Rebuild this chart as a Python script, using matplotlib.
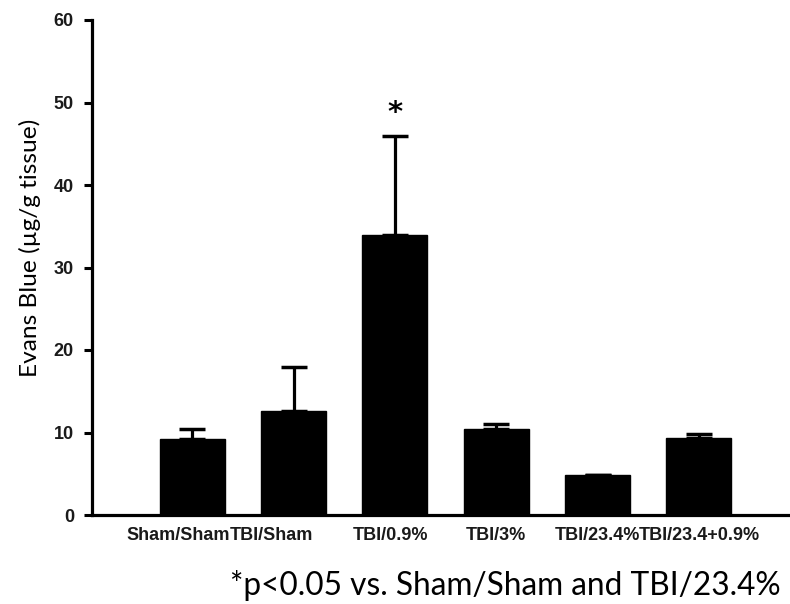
import numpy as np
import matplotlib
matplotlib.use('Agg')
import matplotlib.pyplot as plt

# groups and values
groups = ['Sham/Sham', 'TBI/Sham', 'TBI/0.9%', 'TBI/3%', 'TBI/23.4%', 'TBI/23.4+0.9%']
means = [9.2, 12.6, 33.9, 10.4, 4.85, 9.3]
sem = [1.2, 5.3, 12.1, 0.6, 0.0, 0.5]
sig = [False, False, True, False, False, False]

narrow = ['Liberation Sans Narrow', 'Liberation Sans', 'DejaVu Sans']

fig = plt.figure(figsize=(7.9, 6.04), dpi=100)
ax = fig.add_axes([92/790, 1-515/604, 698/790, 495/604])

x = np.arange(len(groups))
ax.bar(x, means, width=0.64, color='black', edgecolor='black')
ax.errorbar(x, means, yerr=[np.zeros(len(sem)), sem], fmt='none', ecolor='black',
            elinewidth=2.3, capsize=9.4, capthick=2.5)

for i in range(len(groups)):
    if sig[i]:
        ax.text(x[i], means[i] + sem[i] + 1.0, '*', ha='center', va='bottom',
                fontsize=21, fontweight='bold', family='DejaVu Sans')

ax.set_xlim(-0.99, 5.9)
ax.set_ylim(0, 60)
ax.set_yticks([0, 10, 20, 30, 40, 50, 60])
# labels of the first groups sit a little left of their bars in the original
# (x ticks have zero length, so only the labels move)
nudge = np.array([-0.14, -0.22, -0.04, 0, 0, 0])
ax.set_xticks(x + nudge)
ax.set_xticklabels(groups, family=narrow, fontweight='bold', fontsize=13, color='#1a1a1a')
for lab in ax.get_yticklabels():
    lab.set_family(narrow)
    lab.set_fontweight('bold')
    lab.set_fontsize(13)
    lab.set_color('#1a1a1a')

ax.spines['top'].set_visible(False)
ax.spines['right'].set_visible(False)
ax.spines['left'].set_linewidth(2.3)
ax.spines['bottom'].set_linewidth(2.3)
ax.tick_params(axis='y', direction='out', length=6, width=2.2, pad=7)
ax.tick_params(axis='x', length=0, pad=9)

ax.set_ylabel('Evans Blue (µg/g tissue)', family='Lato', fontsize=17.6)
ax.yaxis.set_label_coords(-0.073, 0.54)

fig.text(230/790, 1-595/604, '*p<0.05 vs. Sham/Sham and TBI/23.4%', family='Lato',
         fontsize=22.8, ha='left', va='baseline')

plt.savefig('out.png', dpi=100)
